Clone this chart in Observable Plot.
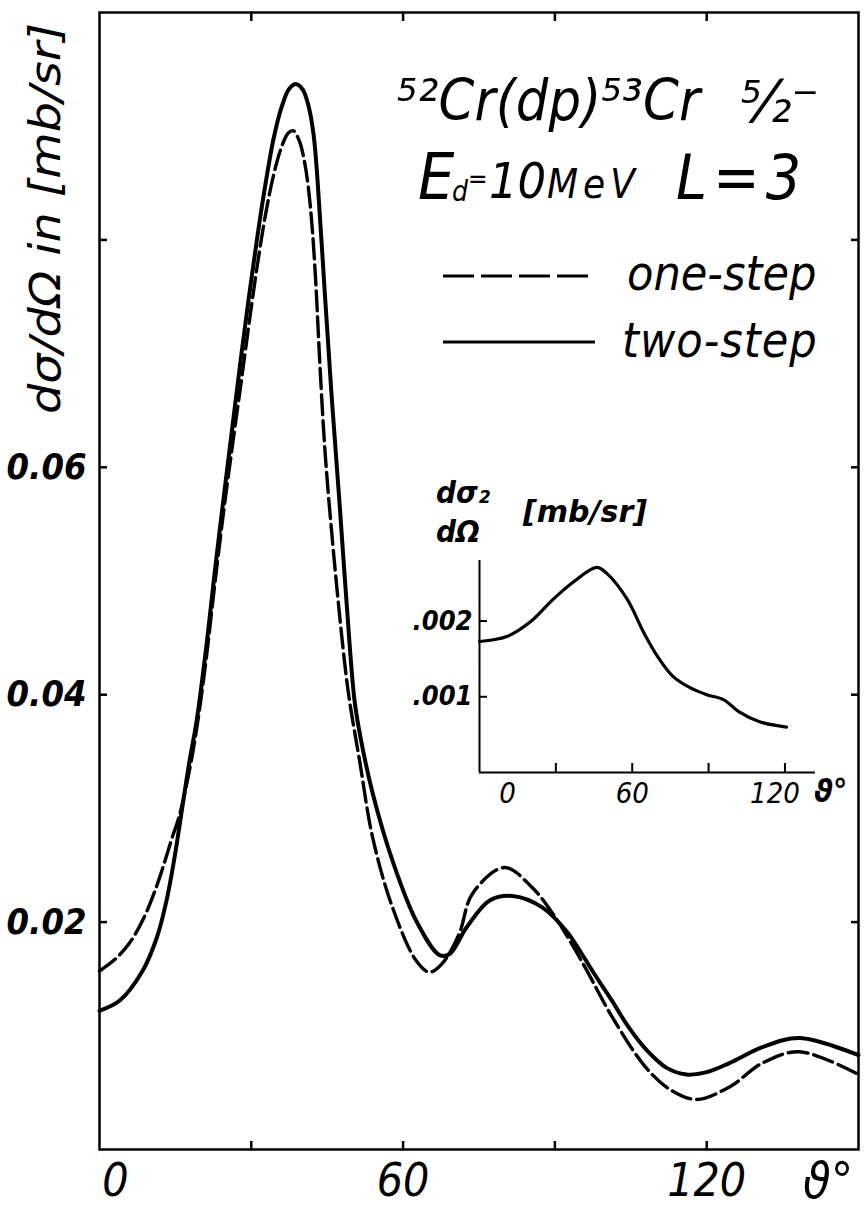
<!DOCTYPE html>
<html><head><meta charset="utf-8">
<script src="https://cdn.jsdelivr.net/npm/d3@7"></script>
<script src="https://cdn.jsdelivr.net/npm/@observablehq/plot@0.6"></script>
<style>
body{margin:0;background:#fff;}
#wrap{position:relative;width:864px;height:1209px;overflow:hidden;background:#fff;}
#wrap > svg, #wrap > figure{position:absolute;margin:0;}
</style></head><body><div id="wrap"></div>
<script>
// ---- main chart data: dσ/dΩ [mb/sr] vs angle ϑ [deg]
const twoStepAngle = [0, 4, 8.5, 11.3, 13.2, 14.8, 16.4, 17.8, 19.2, 21.1, 22.7, 24.5, 26.3, 28, 29.6, 31.2, 32.8, 34.4, 36, 37.5, 38.9, 40.2, 41.3, 42.3, 43.1, 44.5, 45.9, 47.4, 48.8, 50.4, 51.6, 54, 57.9, 62.6, 67.2, 69.2, 72.5, 77.1, 81.6, 87.5, 92.3, 94.9, 98, 101.4, 104.5, 108, 112, 116, 120, 124.5, 131, 138.3, 150];
const twoStepValue = [0.0122, 0.0131, 0.0157, 0.0186, 0.0218, 0.0256, 0.0302, 0.0342, 0.0377, 0.0442, 0.0505, 0.0572, 0.0637, 0.0698, 0.0752, 0.0803, 0.0849, 0.0889, 0.0917, 0.0933, 0.0937, 0.0932, 0.0918, 0.0893, 0.0852, 0.0755, 0.0661, 0.0571, 0.0483, 0.0395, 0.0362, 0.0313, 0.0254, 0.0201, 0.0171, 0.0172, 0.0195, 0.0219, 0.0223, 0.0213, 0.0192, 0.0175, 0.0153, 0.013, 0.0108, 0.0088, 0.0072, 0.0066, 0.0068, 0.0076, 0.009, 0.0098, 0.0083];
const oneStepAngle = [0, 3, 6, 9, 11, 12.6, 14.2, 15.8, 17.8, 19.2, 21.1, 22.7, 24.5, 26.3, 28, 29.6, 31.2, 32.8, 34.4, 36, 37.3, 38.3, 39.5, 40.5, 41.3, 42.1, 42.8, 43.4, 44.6, 46.4, 48.4, 49.4, 51.4, 54, 57.9, 62.6, 65.2, 67.8, 71.1, 73.7, 80, 85.6, 89.5, 93.3, 96, 101.4, 108, 113, 118, 124.5, 131, 138.3, 150];
const oneStepValue = [0.0157, 0.0167, 0.0182, 0.0206, 0.0228, 0.0249, 0.0272, 0.0294, 0.0334, 0.037, 0.0432, 0.0494, 0.056, 0.062, 0.0675, 0.0728, 0.0778, 0.0822, 0.0857, 0.0882, 0.0894, 0.0896, 0.0887, 0.0869, 0.0845, 0.0807, 0.0758, 0.0704, 0.0612, 0.0518, 0.043, 0.0395, 0.0342, 0.0274, 0.0213, 0.0166, 0.0156, 0.0164, 0.019, 0.0225, 0.0248, 0.023, 0.0208, 0.0181, 0.016, 0.0116, 0.0072, 0.0052, 0.0044, 0.0055, 0.0076, 0.0086, 0.0066];
const xTicks = [30, 60, 90, 120];
const xLabelTicks = [60, 120];
const yTicks = [0.02, 0.04, 0.06, 0.08];
const yLabelTicks = [0.02, 0.04, 0.06];

// ---- inset data: dσ2/dΩ [mb/sr]
const insetAngle = [0, 11, 20, 29, 37, 46, 50, 58, 64.5, 70, 76, 82.7, 89, 96, 102, 110, 120.6];
const insetValue = [0.00173, 0.0018, 0.00199, 0.00229, 0.00252, 0.00271, 0.00263, 0.00229, 0.00185, 0.00153, 0.00127, 0.00112, 0.00103, 0.00096, 0.0008, 0.00067, 0.0006];
const insetXTicks = [30, 60, 90, 120];
const insetYTicks = [0.001, 0.002];

const twoStep = twoStepAngle.map((a, i) => ({angle: a, value: twoStepValue[i]}));
const oneStep = oneStepAngle.map((a, i) => ({angle: a, value: oneStepValue[i]}));
const inset = insetAngle.map((a, i) => ({angle: a, value: insetValue[i]}));

const FONT = '"DejaVu Sans Condensed", "DejaVu Sans", sans-serif';
const fmt2 = d => d.toFixed(2);
const fmt3 = d => d.toFixed(3).replace(/^0/, "");

const main = Plot.plot({
  width: 864, height: 1209,
  marginLeft: 99, marginRight: 6, marginTop: 12, marginBottom: 60,
  style: {background: "transparent", fontFamily: FONT, color: "#000", overflow: "visible"},
  x: {domain: [0, 150]},
  y: {domain: [0, 0.1]},
  marks: [
    Plot.frame({stroke: "#000", strokeWidth: 2.5}),
    Plot.axisX(xTicks, {anchor: "bottom", tickSize: -8, strokeWidth: 2.5, tickFormat: () => "", label: null}),
    Plot.axisX(xLabelTicks, {anchor: "bottom", tickSize: 0, tickPadding: 14, fontSize: 46, fontStyle: "italic", tickFormat: d => String(d), label: null}),
    Plot.axisX([0], {anchor: "bottom", tickSize: 0, tickPadding: 14, dx: 16, fontSize: 46, fontStyle: "italic", tickFormat: d => String(d), label: null}),
    Plot.axisX(xTicks, {anchor: "top", tickSize: -8, strokeWidth: 2.5, tickFormat: () => "", label: null}),
    Plot.axisY(yTicks, {anchor: "left", tickSize: -8, strokeWidth: 2.5, tickFormat: () => "", label: null}),
    Plot.axisY(yLabelTicks, {anchor: "left", tickSize: 0, tickPadding: 13, fontSize: 36, fontWeight: "bold", fontStyle: "italic", tickFormat: fmt2, label: null}),
    Plot.axisY(yTicks, {anchor: "right", tickSize: -8, strokeWidth: 2.5, tickFormat: () => "", label: null}),
    Plot.line(oneStep, {x: "angle", y: "value", curve: "catmull-rom", stroke: "#000", strokeWidth: 3.4, strokeDasharray: "20,6"}),
    Plot.line(twoStep, {x: "angle", y: "value", curve: "catmull-rom", stroke: "#000", strokeWidth: 4})
  ]
});
main.style.left = "0px"; main.style.top = "0px";
document.getElementById("wrap").appendChild(main);

const ins = Plot.plot({
  width: 485, height: 342,
  marginLeft: 100, marginRight: 49, marginTop: 80, marginBottom: 50,
  style: {background: "transparent", fontFamily: FONT, color: "#000", overflow: "visible"},
  x: {domain: [0, 132]},
  y: {domain: [0, 0.0028]},
  marks: [
    Plot.ruleX([0], {stroke: "#000", strokeWidth: 2}),
    Plot.ruleY([0], {stroke: "#000", strokeWidth: 2}),
    Plot.axisX(insetXTicks, {anchor: "bottom", tickSize: -9, strokeWidth: 2, tickFormat: () => "", label: null}),
    Plot.axisX([60], {anchor: "bottom", tickSize: 0, tickPadding: 10, fontSize: 29, fontStyle: "italic", tickFormat: d => String(d), label: null}),
    Plot.axisX([120], {anchor: "bottom", tickSize: 0, tickPadding: 10, dx: -10, fontSize: 29, fontStyle: "italic", tickFormat: d => String(d), label: null}),
    Plot.axisX([0], {anchor: "bottom", tickSize: 0, tickPadding: 10, dx: 28, fontSize: 29, fontStyle: "italic", tickFormat: d => String(d), label: null}),
    Plot.axisY(insetYTicks, {anchor: "left", tickSize: -8, strokeWidth: 2, tickFormat: () => "", label: null}),
    Plot.axisY(insetYTicks, {anchor: "left", tickSize: 0, tickPadding: 7, fontSize: 27, fontWeight: "bold", fontStyle: "italic", tickFormat: fmt3, label: null}),
    Plot.line(inset, {x: "angle", y: "value", curve: "catmull-rom", stroke: "#000", strokeWidth: 3.2})
  ]
});
ins.style.left = "379px"; ins.style.top = "480px";
document.getElementById("wrap").appendChild(ins);

// ---- annotations (title, legend, axis titles)
const NS = "http://www.w3.org/2000/svg";
const ov = document.createElementNS(NS, "svg");
ov.setAttribute("width", 864); ov.setAttribute("height", 1209);
ov.style.left = "0px"; ov.style.top = "0px";
ov.setAttribute("font-family", FONT);
ov.setAttribute("font-style", "italic");
ov.innerHTML = `
<text transform="translate(60,414) rotate(-90)" font-size="42" textLength="391" lengthAdjust="spacingAndGlyphs">dσ/dΩ in [mb/sr]</text>

<text x="397" y="120" font-size="57" textLength="303" lengthAdjust="spacing">⁵²Cr(dp)⁵³Cr</text>
<text x="741" y="122" font-size="58">⁵⁄₂⁻</text>

<text font-size="64"><tspan x="418" y="199">E</tspan><tspan x="452" y="201" font-size="28">d</tspan><tspan x="468" y="188" font-size="26">=</tspan></text>
<text x="489" y="198" font-size="50">10</text>
<text x="547" y="198" font-size="40" letter-spacing="5">MeV</text>
<text x="676" y="199" font-size="62" letter-spacing="6">L=3</text>

<line x1="443" y1="276" x2="593" y2="276" stroke="#000" stroke-width="3" stroke-dasharray="31,7"/>
<text x="627" y="290" font-size="48">one-step</text>
<line x1="443" y1="342" x2="595" y2="342" stroke="#000" stroke-width="3"/>
<text x="622" y="357" font-size="48" letter-spacing="1">two-step</text>

<text x="436" y="503" font-size="31" font-weight="bold">dσ₂</text>
<text x="436" y="542" font-size="31" font-weight="bold">dΩ</text>
<text x="523" y="522" font-size="30" font-weight="bold" textLength="124" lengthAdjust="spacingAndGlyphs">[mb/sr]</text>
<text x="814" y="802" font-size="32" font-weight="bold">ϑ°</text>

<text x="803" y="1198" font-size="50">ϑ°</text>
`;
document.getElementById("wrap").appendChild(ov);
</script></body></html>
